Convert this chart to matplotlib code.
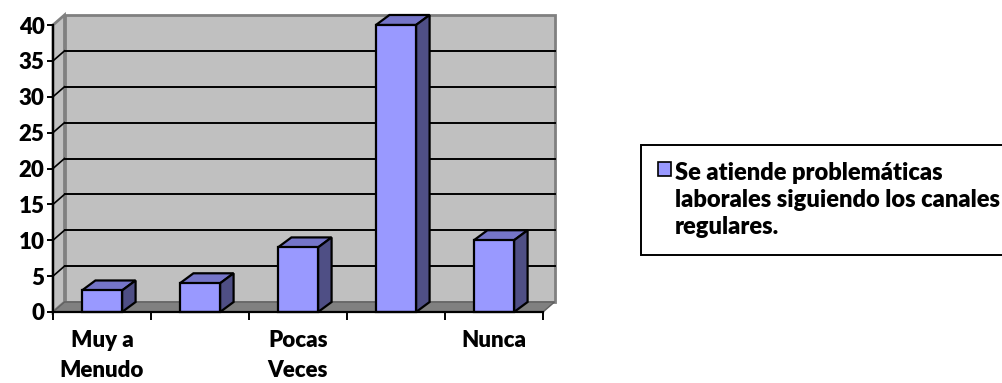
import matplotlib
matplotlib.use("Agg")
import matplotlib.pyplot as plt
from matplotlib.patches import Polygon, Patch

plt.rcParams['font.family'] = ['Lato', 'DejaVu Sans']
plt.rcParams['font.weight'] = 'heavy'

# survey answers (frequency counts)
categories = ["Muy a\nMenudo", "", "Pocas\nVeces", "", "Nunca"]
values = [3, 4, 9, 40, 10]
series_name = "Se atiende problemáticas\nlaborales siguiendo los canales\nregulares."
yticks = [0, 5, 10, 15, 20, 25, 30, 35, 40]

face = "#9999FF"
top_col = "#7575C8"
side_col = "#4F4F85"
wall_col = "#C0C0C0"
floor_col = "#808080"
fs = 16
fw = "heavy"

W, H = 1002, 383
fig = plt.figure(figsize=(W / 100, H / 100), dpi=100)
ax = fig.add_axes([53 / W, (H - 312) / H, 490 / W, 287 / H])
ax.set_xlim(-0.5, len(values) - 0.5)
ax.set_ylim(0, 40)
ax.patch.set_visible(False)

# depth of the fake 3D box, in data units
xpx = 490 / len(values)
ypx = 287 / 40
dxw, dyw = 11.5 / xpx, 10 / ypx
dxb, dyb = 13.5 / xpx, 10 / ypx
x0, x1 = -0.5, len(values) - 0.5

def poly(pts, fc, ec="none", lw=0, z=1):
    ax.add_patch(Polygon(pts, closed=True, facecolor=fc, edgecolor=ec,
                         linewidth=lw, clip_on=False, zorder=z, joinstyle="miter"))

# back wall, side wall and floor
poly([(x0 + dxw, dyw), (x1 + dxw, dyw), (x1 + dxw, 40 + dyw), (x0 + dxw, 40 + dyw)],
     wall_col, "#808080", 2, 0.5)
poly([(x0, 0), (x0 + dxw, dyw), (x0 + dxw, 40 + dyw), (x0, 40)],
     wall_col, "#808080", 2, 0.6)
poly([(x0, 0), (x1, 0), (x1 + dxw, dyw), (x0 + dxw, dyw)], floor_col, "#606060", 1, 0.7)

for y in yticks[1:-1]:
    ax.plot([x0 + dxw, x1 + dxw], [y + dyw, y + dyw], color="black", lw=1.4,
            clip_on=False, zorder=0.8)
    ax.plot([x0, x0 + dxw], [y, y + dyw], color="black", lw=1.2,
            clip_on=False, zorder=0.8)

# columns: front faces from ax.bar, tops and sides added on
bars = ax.bar(range(len(values)), values, width=0.41, color=face,
              edgecolor="black", linewidth=1.6, zorder=3, clip_on=False)
for b in bars:
    bx0 = b.get_x()
    bx1 = bx0 + b.get_width()
    v = b.get_height()
    poly([(bx0, v), (bx1, v), (bx1 + dxb, v + dyb), (bx0 + dxb, v + dyb)],
         top_col, "black", 1.6, 2.5)
    poly([(bx1, 0), (bx1 + dxb, dyb), (bx1 + dxb, v + dyb), (bx1, v)],
         side_col, "black", 1.6, 2.5)

for s in ["top", "right"]:
    ax.spines[s].set_visible(False)
for s in ["left", "bottom"]:
    ax.spines[s].set_linewidth(1.6)
    ax.spines[s].set_zorder(4)

ax.set_yticks(yticks)
ax.set_yticklabels([str(t) for t in yticks], fontsize=fs, fontweight=fw)
ax.tick_params(axis="y", length=4, width=1.4, pad=2)
ax.set_xticks([i - 0.5 for i in range(len(values) + 1)])
ax.set_xticklabels([])
ax.tick_params(axis="x", which="major", length=6, width=1.4, direction="out")
ax.set_xticks(range(len(values)), minor=True)
ax.set_xticklabels(categories, minor=True, fontsize=fs, fontweight=fw,
                   linespacing=1.5)
ax.tick_params(axis="x", which="minor", length=0, pad=13)

# legend frame runs off the right edge of the figure
leg = fig.legend(handles=[Patch(facecolor=face, edgecolor="black", linewidth=1.2)],
                 labels=[series_name], loc="upper left",
                 bbox_to_anchor=(641 / W, 1 - 145 / H), frameon=True,
                 fancybox=False, edgecolor="black", framealpha=1,
                 handlelength=0.55, handleheight=0.55, handletextpad=0.2,
                 borderpad=0.7, borderaxespad=0,
                 prop={"weight": fw, "size": 17})
leg.get_frame().set_linewidth(1.4)
for t in leg.get_texts():
    t.set_linespacing(1.3)
# keep the swatch beside the first line of the label
for col in leg._legend_handle_box.get_children():
    for item in col.get_children():
        item.align = "top"

fig.savefig("out.png", dpi=100)
